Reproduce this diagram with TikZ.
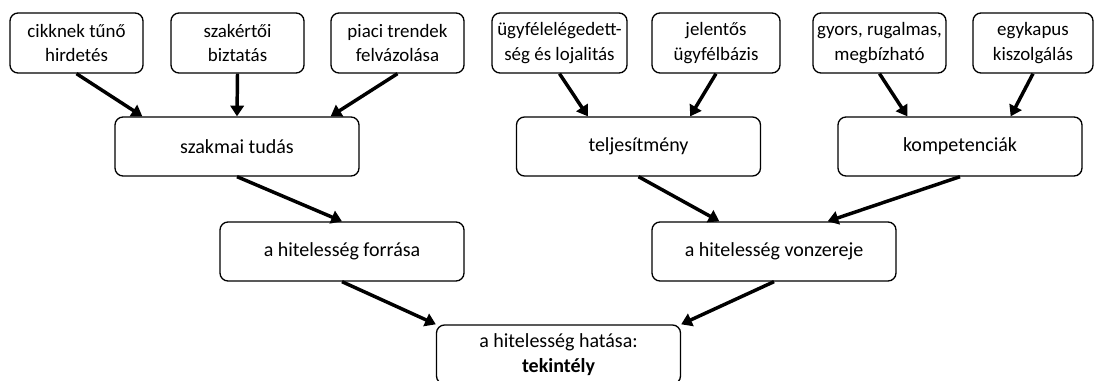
\documentclass[tikz,border=0pt]{standalone}
\usepackage{fontspec}
\setmainfont{Carlito}
\usetikzlibrary{arrows.meta}
\begin{document}
\begin{tikzpicture}[x=0.75pt,y=-0.75pt,
    box/.style={draw,line width=1pt,rounded corners=6pt,inner sep=0pt,align=center},
    small/.style={box,minimum width=99.75pt,minimum height=45pt,font=\fontsize{14.2}{18.5}\selectfont},
    wide/.style={box,minimum width=183pt,minimum height=44.25pt,font=\fontsize{15}{18.5}\selectfont}]
      \clip (0,0) rectangle (1095,381);
      \useasboundingbox (0,0) rectangle (1095,381);
      \node[small] (cikk) at (76.5,43) {cikknek tűnő\\hirdetés};
      \node[small] (szakerto) at (237.5,43) {szakértői\\biztatás};
      \node[small] (piaci) at (397.5,43) {piaci trendek\\felvázolása};
      \node[small,minimum width=101.25pt] (ugyfel) at (559.5,43) {ügyfélelégedett-\\ség és lojalitás};
      \node[small,minimum width=96pt] (jelentos) at (716,43) {jelentős\\ügyfélbázis};
      \node[small] (gyors) at (879.5,43) {gyors, rugalmas,\\megbízható};
      \node[small,minimum width=90pt] (egykapus) at (1033,43) {egykapus\\kiszolgálás};
      \node[wide] (szakmai) at (237,146.5) {szakmai tudás};
      \node[wide] (teljes) at (638.5,146.5) {teljesítmény};
      \node[wide] (kompet) at (960,146.5) {kompetenciák};
      \node[wide] (forrasa) at (342,251.5) {a hitelesség forrása};
      \node[wide] (vonzer) at (774,251.5) {a hitelesség vonzereje};
      \node[wide] (hatasa) at (558.5,354.5) {a hitelesség hatása:\\\textbf{tekintély}};
      \begin{scope}[-{Triangle[length=8pt,width=10pt]},line width=2.6pt]
        \draw (cikk.south) -- ([xshift=21pt]szakmai.north west);
        \draw (szakerto.south) -- (szakmai.north);
        \draw (piaci.south) -- ([xshift=-21.75pt]szakmai.north east);
        \draw (ugyfel.south) -- ([xshift=54pt]teljes.north west);
        \draw (jelentos.south) -- ([xshift=-53.25pt]teljes.north east);
        \draw (gyors.south) -- ([xshift=52.5pt]kompet.north west);
        \draw (egykapus.south) -- ([xshift=-54pt]kompet.north east);
        \draw (szakmai.south) -- (forrasa.north);
        \draw (teljes.south) -- ([xshift=51pt]vonzer.north west);
        \draw (kompet.south) -- ([xshift=-51.75pt]vonzer.north east);
        \draw (forrasa.south) -- (hatasa.north west);
        \draw (vonzer.south) -- (hatasa.north east);
      \end{scope}
\end{tikzpicture}
\end{document}
